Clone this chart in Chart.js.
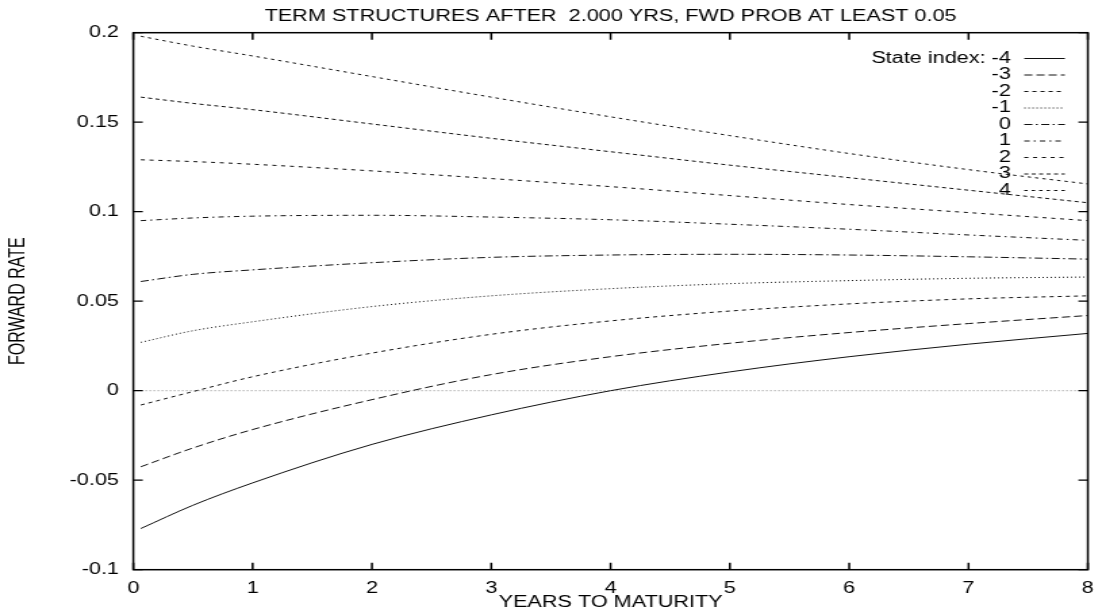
<!doctype html>
<html>
<head>
<meta charset="utf-8">
<title>Term structures after 2.000 yrs</title>
<script src="https://cdn.jsdelivr.net/npm/chart.js"></script>
<style>
  html, body { margin: 0; padding: 0; background: #fff; overflow: hidden; }
  /* drawn narrow, then stretched sideways like the old 640x480 plot */
  #chart { display: block; transform: scaleX(1.3521); transform-origin: 0 0; }
</style>
</head>
<body>
<canvas id="chart" width="818" height="613"></canvas>
<script>
// years to maturity
const maturities = [0.0625, 0.5, 1, 2, 3, 4, 5, 6, 7, 8]
const stateIndex = [-4, -3, -2, -1, 0, 1, 2, 3, 4]

// forward rate per state
const fwdM4 = [-0.077, -0.064, -0.0515, -0.030, -0.0135, 0.0, 0.0105, 0.019, 0.026, 0.032]
const fwdM3 = [-0.0425, -0.032, -0.0217, -0.005, 0.009, 0.019, 0.0265, 0.0325, 0.0375, 0.042]
const fwdM2 = [-0.008, -0.0005, 0.0078, 0.021, 0.0315, 0.039, 0.0445, 0.0485, 0.0513, 0.053]
const fwdM1 = [0.027, 0.0335, 0.0385, 0.047, 0.053, 0.057, 0.0598, 0.0615, 0.0628, 0.0635]
const fwd0 = [0.061, 0.065, 0.0675, 0.0715, 0.0745, 0.0758, 0.0762, 0.0758, 0.0748, 0.0735]
const fwdP1 = [0.095, 0.0965, 0.0975, 0.098, 0.097, 0.0955, 0.093, 0.0902, 0.087, 0.084]
const fwdP2 = [0.129, 0.128, 0.1265, 0.1228, 0.1185, 0.114, 0.109, 0.104, 0.0995, 0.095]
const fwdP3 = [0.164, 0.1605, 0.157, 0.149, 0.141, 0.1335, 0.126, 0.119, 0.112, 0.105]
const fwdP4 = [0.198, 0.1925, 0.187, 0.1755, 0.164, 0.153, 0.1425, 0.1325, 0.1235, 0.1155]

const curves = [fwdM4, fwdM3, fwdM2, fwdM1, fwd0, fwdP1, fwdP2, fwdP3, fwdP4]
const dashes = [
  [],
  [6, 3],
  [3, 3],
  [1, 2],
  [6, 2.5, 1.5, 2.5],
  [4, 3, 1.5, 3],
  [3, 3.5],
  [3, 2.5],
  [2.5, 3]
]

const FONT = '"Liberation Sans", Arial, Helvetica, sans-serif'
Chart.defaults.font.family = FONT
Chart.defaults.font.size = 16
Chart.defaults.color = '#000'

// frame, inward ticks on all four sides and the dotted zero axis
const framePlugin = {
  id: 'frame',
  beforeDatasetsDraw(chart) {
    const { ctx, chartArea: a, scales: { y } } = chart
    const y0 = y.getPixelForValue(0)
    ctx.save()
    ctx.strokeStyle = '#888'
    ctx.lineWidth = 1
    ctx.setLineDash([1, 2])
    ctx.beginPath()
    ctx.moveTo(a.left, y0)
    ctx.lineTo(a.right, y0)
    ctx.stroke()
    ctx.restore()
  },
  afterDatasetsDraw(chart) {
    const { ctx, chartArea: a, scales: { x, y } } = chart
    const len = 7
    ctx.save()
    ctx.strokeStyle = '#000'
    ctx.lineWidth = 1.5
    ctx.beginPath()
    x.ticks.forEach((t) => {
      const px = x.getPixelForValue(t.value)
      ctx.moveTo(px, a.bottom)
      ctx.lineTo(px, a.bottom - len)
      ctx.moveTo(px, a.top)
      ctx.lineTo(px, a.top + len)
    })
    ctx.stroke()
    ctx.lineWidth = 1.2
    ctx.beginPath()
    y.ticks.forEach((t) => {
      const py = y.getPixelForValue(t.value)
      ctx.moveTo(a.left, py)
      ctx.lineTo(a.left + len, py)
      ctx.moveTo(a.right, py)
      ctx.lineTo(a.right - len, py)
    })
    ctx.stroke()
    ctx.lineWidth = 1.5
    ctx.strokeRect(a.left, a.top, a.right - a.left, a.bottom - a.top)
    ctx.restore()
  }
}

// key in the top right corner: label first, line sample after it
const keyPlugin = {
  id: 'key',
  afterDraw(chart) {
    const { ctx, chartArea: a } = chart
    const textRight = a.right - 57
    const x1 = a.right - 47
    const x2 = a.right - 17
    ctx.save()
    ctx.font = '16px ' + FONT
    ctx.textAlign = 'right'
    ctx.textBaseline = 'middle'
    chart.data.datasets.forEach((ds, i) => {
      const yy = a.top + 25.8 + i * 16.5
      ctx.fillStyle = '#000'
      ctx.fillText((i === 0 ? 'State index: ' : '') + ds.label, textRight, yy)
      ctx.strokeStyle = ds.borderColor
      ctx.lineWidth = ds.borderWidth
      ctx.setLineDash(ds.borderDash)
      ctx.beginPath()
      ctx.moveTo(x1, yy)
      ctx.lineTo(x2, yy)
      ctx.stroke()
    })
    ctx.restore()
  }
}

new Chart(document.getElementById('chart'), {
  type: 'line',
  data: {
    datasets: curves.map((vals, i) => ({
      label: String(stateIndex[i]),
      data: maturities.map((m, j) => ({ x: m, y: vals[j] })),
      borderColor: '#111',
      borderWidth: 1,
      borderDash: dashes[i],
      pointRadius: 0,
      cubicInterpolationMode: 'monotone',
      fill: false
    }))
  },
  options: {
    responsive: false,
    animation: false,
    devicePixelRatio: 1,
    layout: { padding: { left: 0, right: 5.2, top: 0, bottom: 0 } },
    plugins: {
      legend: { display: false },
      tooltip: { enabled: false },
      title: {
        display: true,
        fullSize: false,
        text: 'TERM STRUCTURES AFTER  2.000 YRS, FWD PROB AT LEAST 0.05',
        color: '#000',
        font: { size: 16, weight: 'normal' },
        padding: { top: 7, bottom: 6.5 }
      }
    },
    scales: {
      x: {
        type: 'linear',
        min: 0,
        max: 8,
        grid: { display: false, drawTicks: false },
        border: { display: false },
        ticks: { stepSize: 1, padding: 9, color: '#000', maxRotation: 0 },
        title: {
          display: true,
          text: 'YEARS TO MATURITY',
          color: '#000',
          padding: { top: 0, bottom: 0.4 }
        },
        afterFit(s) { s.height = 43.3 }
      },
      y: {
        min: -0.1,
        max: 0.2,
        grid: { display: false, drawTicks: false },
        border: { display: false },
        ticks: {
          stepSize: 0.05,
          padding: 10.6,
          color: '#000',
          callback: (v) => String(+v.toFixed(2))
        },
        title: {
          display: true,
          text: 'FORWARD RATE',
          color: '#000',
          padding: { top: 3.7, bottom: 0 }
        },
        afterFit(s) { s.width = 98.6 }
      }
    }
  },
  plugins: [framePlugin, keyPlugin]
})
</script>
</body>
</html>
